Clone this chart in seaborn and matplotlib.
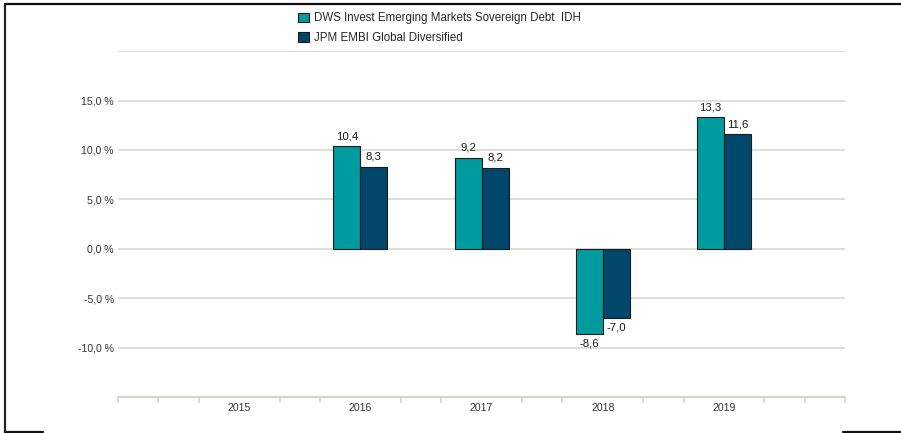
import numpy as np
import pandas as pd
import matplotlib
matplotlib.use("Agg")
import matplotlib.pyplot as plt
from matplotlib.patches import Patch
from matplotlib.lines import Line2D
import seaborn as sns

# Données
annees = ["2015", "2016", "2017", "2018", "2019"]
fonds = [np.nan, 10.4, 9.2, -8.6, 13.3]
indice = [np.nan, 8.3, 8.2, -7.0, 11.6]
noms = ["DWS Invest Emerging Markets Sovereign Debt  IDH",
        "JPM EMBI Global Diversified"]
couleurs = ["#009b9e", "#00476b"]
yticks = [-10, -5, 0, 5, 10, 15]

df = pd.DataFrame({
    "annee": annees * 2,
    "perf": fonds + indice,
    "serie": [noms[0]] * len(annees) + [noms[1]] * len(annees),
})

sns.set_style("white")
plt.rcParams["font.family"] = ["Liberation Sans", "DejaVu Sans"]

fig = plt.figure(figsize=(9.01, 4.33), dpi=100)
ax = fig.add_axes([0.131, 0.083, 0.807, 0.799])

sns.barplot(data=df, x="annee", y="perf", hue="serie", order=annees,
            hue_order=noms, palette=couleurs, saturation=1, width=0.446,
            ax=ax, edgecolor="#1a1a1a", linewidth=0.8, legend=False,
            errorbar=None)

ax.set_xlim(-1, 5)
ax.set_ylim(-15, 20)

# grille horizontale
grid_c = "#dcdad2"
for v in [-10, -5, 0, 5, 10, 15, 20]:
    ax.axhline(v, color=grid_c, lw=1.3, zorder=0)
ax.set_yticks(yticks)
ax.set_yticklabels([f"{v:.1f}".replace(".", ",") + " %" for v in yticks],
                   fontsize=7.6, color="#333333")
ax.tick_params(axis="y", length=0, pad=3)

# axe x
ax.set_xticks(range(len(annees)))
ax.set_xticklabels(annees, fontsize=7.6, color="#333333")
ax.tick_params(axis="x", which="major", length=0, pad=4)
minor = [i / 3 for i in range(-3, 16) if i % 3 != 0] + [-1, 5]
ax.set_xticks(minor, minor=True)
ax.tick_params(axis="x", which="minor", bottom=True, length=4,
               color="#d8d4c8", width=1.2)

for s in ["top", "right", "left"]:
    ax.spines[s].set_visible(False)
ax.spines["bottom"].set_color("#d8d4c8")
ax.spines["bottom"].set_linewidth(1.6)
ax.set_xlabel("")
ax.set_ylabel("")

# étiquettes de valeurs
for cont in ax.containers:
    for rect in cont:
        h = rect.get_height()
        if np.isnan(h):
            continue
        x = rect.get_x() + rect.get_width() / 2
        txt = f"{h:.1f}".replace(".", ",")
        if h >= 0:
            ax.text(x, h + 0.5, txt, ha="center", va="bottom", fontsize=8.2,
                    color="#1a1a1a")
        else:
            ax.text(x, h - 0.5, txt, ha="center", va="top", fontsize=8.2,
                    color="#1a1a1a")

# légende
handles = [Patch(facecolor=c, edgecolor="#1a1a1a", linewidth=0.8) for c in couleurs]
fig.legend(handles, noms, loc="upper left", bbox_to_anchor=(0.322, 0.99),
           frameon=False, fontsize=8.3, handlelength=0.9, handleheight=0.9,
           handletextpad=0.5, labelspacing=0.65, borderaxespad=0.3)

# cadre
fig.add_artist(Line2D([0.005, 0.005], [0.0, 0.991], color="#222222", lw=1.6))
fig.add_artist(Line2D([0.005, 1.0], [0.991, 0.991], color="#111111", lw=1.6))
fig.add_artist(Line2D([0.005, 0.048], [0.002, 0.002], color="#111111", lw=1.6))
fig.add_artist(Line2D([0.936, 1.0], [0.002, 0.002], color="#111111", lw=1.6))

fig.savefig("out.png", dpi=100)
